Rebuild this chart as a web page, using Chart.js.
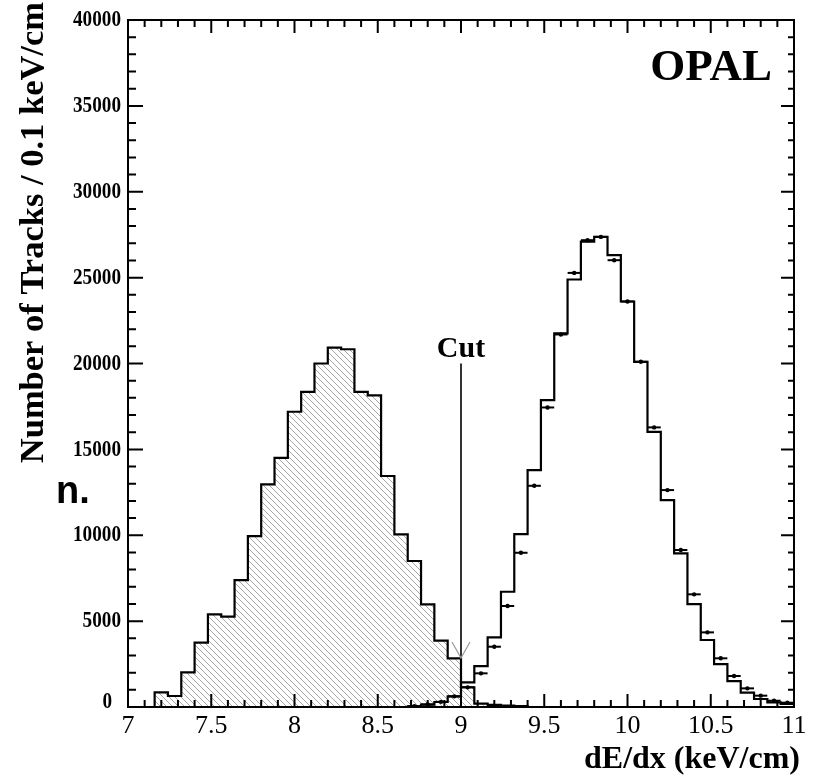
<!DOCTYPE html>
<html>
<head>
<meta charset="utf-8">
<script src="https://cdn.jsdelivr.net/npm/chart.js@4/dist/chart.umd.min.js"></script>
<style>
  html, body { margin: 0; padding: 0; background: #fff; }
  canvas { display: block; }
</style>
</head>
<body>
<canvas id="c" width="818" height="775"></canvas>
<script>
// ---------------- data ----------------
const binEdges = [7.00,7.08,7.16,7.24,7.32,7.40,7.48,7.56,7.64,7.72,7.80,7.88,7.96,8.04,8.12,8.20,8.28,8.36,8.44,8.52,
  8.60,8.68,8.76,8.84,8.92,9.00,9.08,9.16,9.24,9.32,9.40,9.48,9.56,9.64,9.72,9.80,9.88,9.96,10.04,10.12,
  10.20,10.28,10.36,10.44,10.52,10.60,10.68,10.76,10.84,10.92,11.00];

// hatched histogram (below cut)
const hatchedCounts = [0,0,855,640,2020,3750,5390,5260,7390,9950,12960,14510,17190,18350,20000,20930,20830,18350,18140,13450,
  10050,8500,5970,3860,2830,1150,200,120,80,50,0,0,0,0,0,0,0,0,0,0,
  0,0,0,0,0,0,0,0,0,0];

// open histogram (above cut)
const openCounts = [0,0,0,0,0,0,0,0,0,0,0,0,0,0,0,0,0,0,0,0,
  0,40,140,290,620,1435,2385,4055,6710,10070,13790,17870,21750,24890,27100,27370,26310,23610,20100,16020,
  12050,8945,5995,3900,2500,1510,835,465,270,175];

// data points (bin centres and counts)
const dataX = [8.72,8.80,8.88,8.96,9.04,9.12,9.20,9.28,9.36,9.44,9.52,9.60,9.68,9.76,9.84,9.92,10.00,10.08,10.16,10.24,
  10.32,10.40,10.48,10.56,10.64,10.72,10.80,10.88,10.96];
const dataY = [50,150,300,620,1145,1960,3510,5880,8980,12880,17440,21690,25275,27180,27370,26015,23610,20100,16280,12630,
  9140,6560,4345,2835,1805,1085,660,365,250];

const xTicks = [7, 7.5, 8, 8.5, 9, 9.5, 10, 10.5, 11];
const yTicks = [0, 5000, 10000, 15000, 20000, 25000, 30000, 35000, 40000];
const cutValue = 9.0;
const cutTop = 20000;
const cutArrowTip = 2850;

// ---------------- helpers ----------------
function stepPoints(edges, counts) {
  const pts = [{x: edges[0], y: 0}];
  for (let i = 0; i < counts.length; i++) pts.push({x: edges[i], y: counts[i]});
  pts.push({x: edges[edges.length - 1], y: counts[counts.length - 1]});
  pts.push({x: edges[edges.length - 1], y: 0});
  return pts;
}
function makeHatch() {
  const s = 6;
  const pc = document.createElement('canvas');
  pc.width = s; pc.height = s;
  const p = pc.getContext('2d');
  p.fillStyle = '#ffffff'; p.fillRect(0, 0, s, s);
  p.strokeStyle = '#a6a6a6'; p.lineWidth = 1;
  p.beginPath();
  p.moveTo(-1, -1); p.lineTo(s + 1, s + 1);
  p.moveTo(-1, s - 1); p.lineTo(1, s + 1);
  p.moveTo(s - 1, -1); p.lineTo(s + 1, 1);
  p.stroke();
  return p.createPattern(pc, 'repeat');
}

const SERIF = '"Liberation Serif", "Times New Roman", serif';

const framePlugin = {
  id: 'frame',
  afterDatasetsDraw(chart) {
    const ctx = chart.ctx, a = chart.chartArea;
    const xs = chart.scales.x, ys = chart.scales.y;
    ctx.save();
    // cut line
    const cx = xs.getPixelForValue(cutValue);
    ctx.strokeStyle = '#000';
    ctx.lineWidth = 1.6;
    ctx.beginPath();
    ctx.moveTo(cx, ys.getPixelForValue(cutTop));
    ctx.lineTo(cx, a.bottom);
    ctx.stroke();
    // arrow head
    const ty = ys.getPixelForValue(cutArrowTip);
    ctx.strokeStyle = '#9a9a9a'; ctx.lineWidth = 1.2;
    ctx.beginPath();
    ctx.moveTo(cx - 9, ty - 16); ctx.lineTo(cx, ty); ctx.lineTo(cx + 9, ty - 16);
    ctx.stroke();
    ctx.fillStyle = '#000';
    ctx.font = 'bold 30px ' + SERIF;
    ctx.textAlign = 'center'; ctx.textBaseline = 'alphabetic';
    ctx.fillText('Cut', cx, ys.getPixelForValue(cutTop) - 7);

    // frame
    ctx.strokeStyle = '#000'; ctx.lineWidth = 2;
    ctx.strokeRect(a.left, a.top, a.right - a.left, a.bottom - a.top);
    // ticks
    ctx.beginPath();
    for (let v = 7; v <= 11.0001; v += 0.1) {
      const vv = Math.round(v * 10) / 10;
      const px = xs.getPixelForValue(vv);
      const major = Math.abs(vv * 2 - Math.round(vv * 2)) < 1e-6;
      const L = major ? 13 : 7;
      ctx.moveTo(px, a.bottom); ctx.lineTo(px, a.bottom - L);
      ctx.moveTo(px, a.top); ctx.lineTo(px, a.top + L);
    }
    for (let v = 0; v <= 40000; v += 1000) {
      const py = ys.getPixelForValue(v);
      const major = v % 5000 === 0;
      ctx.moveTo(a.left, py); ctx.lineTo(a.left + (major ? 15 : 8), py);
      ctx.moveTo(a.right, py); ctx.lineTo(a.right - (major ? 13 : 6), py);
    }
    ctx.stroke();

    // y tick labels (narrow, tall serif as in the reference)
    ctx.fillStyle = '#000';
    ctx.font = 'bold 24px ' + SERIF;
    ctx.textAlign = 'right'; ctx.textBaseline = 'middle';
    yTicks.forEach(v => {
      const py = ys.getPixelForValue(v);
      ctx.save();
      ctx.translate(v === 0 ? 112 : 121, v === 0 ? py - 5 : py);
      ctx.scale(0.8, 1);
      ctx.fillText(String(v), 0, 0);
      ctx.restore();
    });

    // OPAL
    ctx.font = 'bold 45px ' + SERIF;
    ctx.textAlign = 'right'; ctx.textBaseline = 'alphabetic';
    ctx.fillText('OPAL', a.right - 22, a.top + 60);

    // axis titles
    ctx.font = 'bold 32px ' + SERIF;
    ctx.textAlign = 'right';
    ctx.fillText('dE/dx (keV/cm)', 800, 768);
    ctx.save();
    ctx.translate(43, 2);
    ctx.rotate(-Math.PI / 2);
    ctx.font = 'bold 34.5px ' + SERIF;
    ctx.textAlign = 'right';
    ctx.fillText('Number of Tracks / 0.1 keV/cm', 0, 0);
    ctx.restore();

    // stray text fragment at left edge
    ctx.font = 'bold 38px "Liberation Sans", Arial, sans-serif';
    ctx.textAlign = 'left';
    ctx.fillText('n.', 56, 503);
    ctx.restore();
  }
};

new Chart(document.getElementById('c'), {
  type: 'line',
  data: {
    datasets: [
      {
        label: 'hatched',
        data: stepPoints(binEdges, hatchedCounts),
        stepped: 'before',
        borderColor: '#000',
        borderWidth: 2.2,
        backgroundColor: makeHatch(),
        fill: 'origin',
        pointRadius: 0,
        order: 3
      },
      {
        label: 'open',
        data: stepPoints(binEdges, openCounts),
        stepped: 'before',
        borderColor: '#000',
        borderWidth: 2.2,
        fill: false,
        pointRadius: 0,
        order: 2
      },
      {
        label: 'data-err',
        type: 'scatter',
        data: dataX.map((x, i) => ({x: x, y: dataY[i]})),
        showLine: false,
        pointStyle: 'line',
        pointRadius: 6.6,
        borderColor: '#000',
        borderWidth: 2,
        order: 1
      },
      {
        label: 'data',
        type: 'scatter',
        data: dataX.map((x, i) => ({x: x, y: dataY[i]})),
        showLine: false,
        pointStyle: 'circle',
        pointRadius: 2.2,
        backgroundColor: '#000',
        borderColor: '#000',
        borderWidth: 0,
        order: 0
      }
    ]
  },
  options: {
    responsive: false,
    animation: false,
    devicePixelRatio: 1,
    layout: { padding: { left: 0, top: 20, right: 24, bottom: 0 } },
    plugins: { legend: { display: false }, tooltip: { enabled: false } },
    scales: {
      x: {
        type: 'linear', min: 7, max: 11,
        afterFit(s) { s.height = 68; },
        afterBuildTicks(s) { s.ticks = xTicks.map(v => ({value: v})); },
        grid: { display: false, drawTicks: false },
        border: { display: false },
        ticks: {
          padding: 4, color: '#000',
          font: { family: SERIF, size: 26 },
          callback: v => String(v),
          maxRotation: 0, autoSkip: false
        }
      },
      y: {
        type: 'linear', min: 0, max: 40000,
        afterFit(s) { s.width = 128; },
        afterBuildTicks(s) { s.ticks = yTicks.map(v => ({value: v})); },
        grid: { display: false, drawTicks: false },
        border: { display: false },
        ticks: { display: false }
      }
    }
  },
  plugins: [framePlugin]
});
</script>
</body>
</html>
